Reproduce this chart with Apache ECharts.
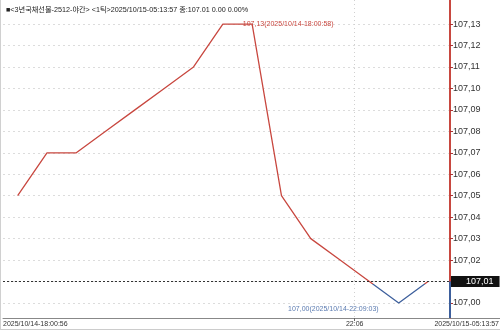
<!DOCTYPE html>
<html><head><meta charset="utf-8">
<script src="https://cdn.jsdelivr.net/npm/echarts@6/dist/echarts.min.js"></script>
<style>html,body{margin:0;padding:0;background:#fff}#c{width:500px;height:330px}</style>
</head><body><div id="c"></div>
<script>
// ---- data ----
const titleText = '■<3년국채선물-2512-야간> <1틱>2025/10/15-05:13:57 종:107.01 0.00 0.00%';
const prices = [107.05, 107.07, 107.07, 107.08, 107.09, 107.10, 107.11, 107.13, 107.13, 107.05, 107.03, 107.02, 107.01, 107.00, 107.01];
const yTickValues = [107.00, 107.01, 107.02, 107.03, 107.04, 107.05, 107.06, 107.07, 107.08, 107.09, 107.10, 107.11, 107.12, 107.13];
const xTickLabels = ['2025/10/14-18:00:56', '22:06', '2025/10/15-05:13:57'];
const maxTimeLabel = '2025/10/14-18:00:58';
const minTimeLabel = '2025/10/14-22:09:03';
const lastPrice = 107.01;

// ---- layout ----
const xMin = -0.5, xMax = 14.75, yMin = 106.993, yMax = 107.1412;
const xTickAt = [-0.5, 11.5];
const RED = '#c8473f', BLUE = '#3d5f9c';
const FONT = '"Liberation Sans", "Noto Sans CJK KR", sans-serif';
const fmt = v => v.toFixed(2).replace('.', ',');

// hard colour switch at the last price, relative to the line's own extent
const pMax = Math.max(...prices), pMin = Math.min(...prices);
const cut = (pMax - lastPrice) / (pMax - pMin);
const lineColor = new echarts.graphic.LinearGradient(0, 0, 0, 1, [
  {offset: 0, color: RED}, {offset: cut, color: RED},
  {offset: cut, color: BLUE}, {offset: 1, color: BLUE}
]);

const chart = echarts.init(document.getElementById('c'), null, {renderer: 'canvas'});
chart.setOption({
  animation: false,
  textStyle: {fontFamily: FONT},
  title: {text: titleText, left: 1, top: 1, textStyle: {fontSize: 7.2, fontWeight: 'normal', color: '#222', fontFamily: FONT}},
  grid: {left: 0, right: 50, top: 0, bottom: 12, containLabel: false},
  xAxis: {
    type: 'value', min: xMin, max: xMax,
    axisLine: {onZero: false, lineStyle: {color: '#888', width: 1}},
    axisTick: {customValues: [xTickAt[1]], length: 3, lineStyle: {color: '#666'}},
    axisLabel: {
      customValues: xTickAt, fontSize: 7, color: '#333', margin: 3, alignMinLabel: 'left',
      formatter: v => (v === xTickAt[0] ? xTickLabels[0] : xTickLabels[1])
    },
    splitLine: {show: true, lineStyle: {type: [1, 3], color: '#d0d0d0'}}
  },
  yAxis: {
    type: 'value', position: 'right', min: yMin, max: yMax,
    axisLine: {show: true, onZero: false, lineStyle: {color: RED, width: 2}},
    axisTick: {show: true, customValues: yTickValues, length: 3, lineStyle: {color: '#a33'}},
    axisLabel: {customValues: yTickValues, formatter: fmt, fontSize: 9, color: '#333', margin: 3},
    splitLine: {show: true, lineStyle: {type: [2, 3], color: '#dcdcdc'}}
  },
  series: [{
    type: 'line', symbol: 'none',
    data: prices.map((v, i) => [i, v]),
    color: RED,
    lineStyle: {width: 1.3, color: lineColor},
    markPoint: {
      symbolSize: 0,
      data: [
        {type: 'max', label: {show: true, position: 'right', distance: 0, offset: [20, 0], fontSize: 7, color: RED,
          formatter: p => fmt(p.value) + '(' + maxTimeLabel + ')'}},
        {type: 'min', label: {show: true, position: 'left', distance: 0, offset: [-20, 6], fontSize: 7, color: '#5b7bb0',
          formatter: p => fmt(p.value) + '(' + minTimeLabel + ')'}}
      ]
    },
    markLine: {
      symbol: 'none', silent: true,
      data: [
        {yAxis: lastPrice, lineStyle: {type: [2, 2], color: '#333', width: 1},
          label: {show: true, position: 'end', distance: 1, formatter: p => fmt(p.value), backgroundColor: '#111',
            color: '#fff', fontSize: 9, padding: [1, 6, 1, 15]}},
        [{coord: [xMax, yMin], lineStyle: {type: 'solid', color: BLUE, width: 2}, label: {show: false}},
         {coord: [xMax, lastPrice]}]
      ]
    }
  }],
  graphic: [
    {type: 'text', right: 1, top: 321, style: {text: xTickLabels[2], fontSize: 7, fill: '#333', fontFamily: FONT}},
    {type: 'line', shape: {x1: 450, y1: 318.5, x2: 500, y2: 318.5}, style: {stroke: '#888', lineWidth: 1}},
    {type: 'line', shape: {x1: 0, y1: 329.5, x2: 500, y2: 329.5}, style: {stroke: '#ccc', lineWidth: 1}},
    {type: 'line', shape: {x1: 0.5, y1: 0, x2: 0.5, y2: 330}, style: {stroke: '#d0d0d0', lineWidth: 1}}
  ]
});
</script></body></html>
